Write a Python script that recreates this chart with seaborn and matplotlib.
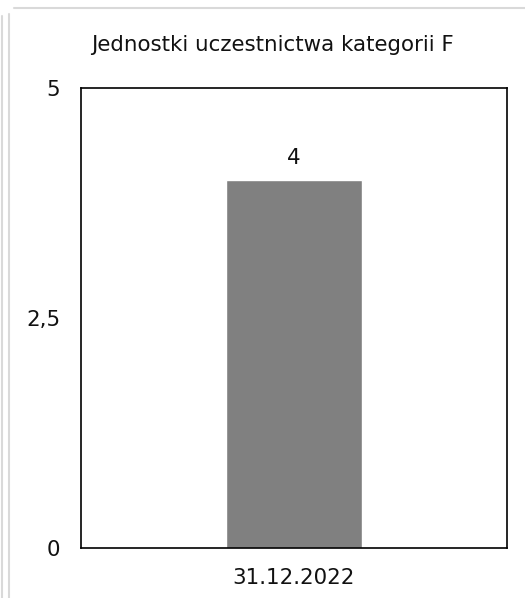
import matplotlib
matplotlib.use("Agg")
import matplotlib.pyplot as plt
import seaborn as sns
import pandas as pd
from matplotlib.lines import Line2D

categories = ["31.12.2022"]
values = [4]
yticks = [0, 2.5, 5]
ytick_labels = ["0", "2,5", "5"]
title = "Jednostki uczestnictwa kategorii F"

sns.set_theme(style="white")
plt.rcParams['font.family'] = ['DejaVu Sans']

W, H = 525, 598
FS = 15.4
TXT = "#111111"
fig = plt.figure(figsize=(W / 100, H / 100), dpi=100)
ax = fig.add_axes([81 / W, 1 - 548 / H, (507 - 81) / W, (548 - 88) / H])

df = pd.DataFrame({"cat": categories, "val": values})
sns.barplot(data=df, x="cat", y="val", color="#808080", width=0.318, ax=ax, saturation=1)

ax.set_ylim(0, 5)
ax.set_xlim(-0.5, 0.5)
ax.set_yticks(yticks)
ax.set_yticklabels(ytick_labels)
ax.tick_params(axis="y", length=0, pad=15, labelsize=FS, labelcolor=TXT)
ax.tick_params(axis="x", length=0, pad=14.5, labelsize=FS, labelcolor=TXT)
ax.set_xlabel("")
ax.set_ylabel("")
for s in ax.spines.values():
    s.set_visible(True)
    s.set_color("black")
    s.set_linewidth(1.2)
ax.set_facecolor("white")

for c in ax.containers:
    ax.bar_label(c, labels=[str(v) for v in values], padding=8.5, fontsize=FS, color=TXT)

fig.text(272 / W, 1 - 45 / H, title, ha="center", va="center", fontsize=FS, color=TXT)

gray = "#d9d9d9"
fig.add_artist(Line2D([8.5 / W, 8.5 / W], [0, 1 - 14 / H], transform=fig.transFigure, color=gray, lw=1.5))
fig.add_artist(Line2D([14 / W, 1], [1 - 8 / H, 1 - 8 / H], transform=fig.transFigure, color=gray, lw=1.5))
fig.add_artist(Line2D([1.5 / W, 1.5 / W], [0, 1 - 16 / H], transform=fig.transFigure, color=gray, lw=1.5))

fig.savefig("out.png", dpi=100, facecolor="white")
